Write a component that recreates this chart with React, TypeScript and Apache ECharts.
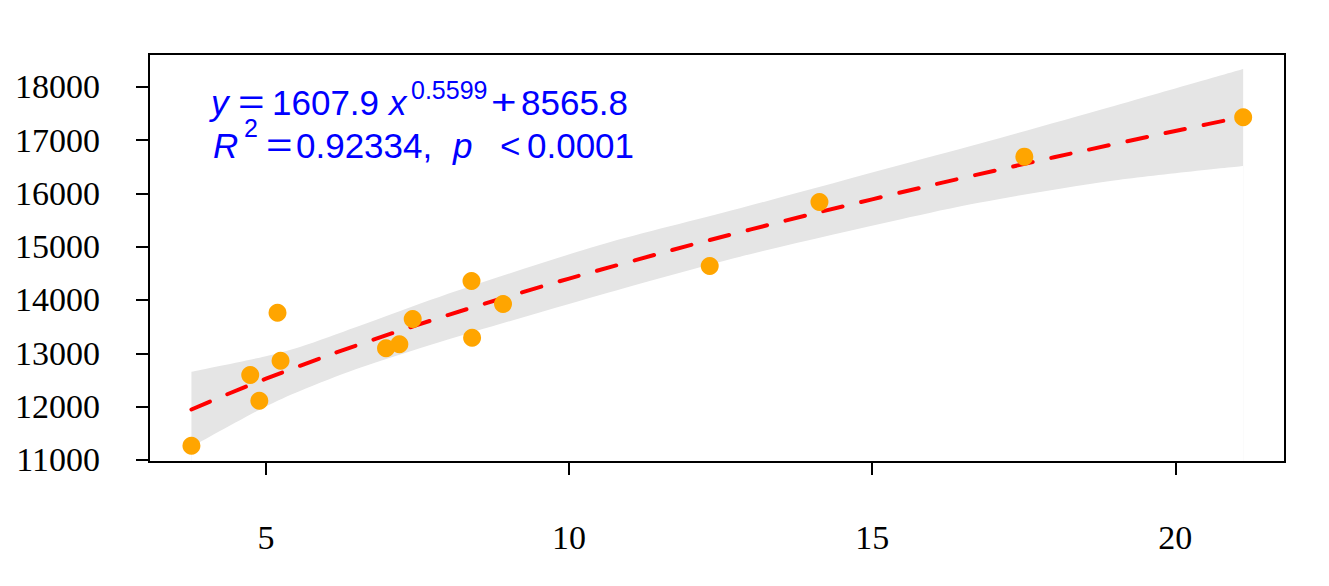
import React, { useEffect, useRef } from "react";
import * as echarts from "echarts";

// Observed points
const pointX = [3.77, 4.74, 4.89, 5.19, 5.24, 6.98, 7.2, 7.42, 8.39, 8.4, 8.91, 12.32, 14.13, 17.51, 21.12];
const pointY = [11268, 12594, 12112, 13762, 12862, 13094, 13169, 13644, 14356, 13293, 13925, 14638, 15838, 16688, 17426];

// Fitted curve
const fitX = [3.77, 4.3, 5, 6, 7, 8, 9, 10, 12, 14, 16, 18, 20, 21.12];
const fitY = [11946, 12204, 12525, 12951, 13346, 13717, 14068, 14402, 15029, 15612, 16159, 16677, 17170, 17437];

// Confidence band
const bandX = [3.77, 4.98, 5.56, 6.49, 7.87, 10.51, 12.82, 15.46, 16.78, 18.93, 21.12];
const bandUpper = [12656, 12941, 13119, 13494, 14062, 15031, 15720, 16532, 16935, 17619, 18332];
const bandLower = [11244, 11994, 12294, 12706, 13213, 14094, 14812, 15510, 15828, 16232, 16513];

// Axis ticks
const xTicks = [5, 10, 15, 20];
const yTicks = [11000, 12000, 13000, 14000, 15000, 16000, 17000, 18000];

export default function App() {
  const ref = useRef<HTMLDivElement>(null);

  useEffect(() => {
    const chart = echarts.init(ref.current as HTMLDivElement, null, { renderer: "svg" });
    const sans = "'Liberation Sans', Arial, Helvetica, sans-serif";
    const serif = "'Liberation Serif', 'Times New Roman', serif";
    const blue = "#0000ff";
    const txt = (text: string, x: number, y: number, size: number, italic = false, scaleX = 1) => ({
      type: "text",
      x,
      y,
      scaleX,
      silent: true,
      z: 100,
      style: {
        text,
        fill: blue,
        fontSize: size,
        fontFamily: sans,
        fontStyle: italic ? "italic" : "normal",
        align: "left",
        verticalAlign: "middle",
      },
    });

    const option: any = {
      animation: false,
      backgroundColor: "#ffffff",
      grid: {
        left: 149,
        top: 54,
        width: 1136,
        height: 408,
        show: true,
        z: 10,
        borderColor: "#000",
        borderWidth: 2,
        backgroundColor: "transparent",
      },
      xAxis: {
        type: "value",
        z: 10,
        min: 3.07,
        max: 21.81,
        splitLine: { show: false },
        axisLine: { show: true, onZero: false, lineStyle: { color: "#000", width: 2 } },
        axisTick: { show: true, length: 13, lineStyle: { color: "#000", width: 2 }, customValues: xTicks },
        axisLabel: {
          show: true,
          customValues: xTicks,
          margin: 58,
          color: "#000",
          fontFamily: serif,
          fontSize: 34,
          formatter: (v: number) => String(v),
        },
      },
      yAxis: {
        type: "value",
        z: 10,
        min: 10962,
        max: 18613,
        splitLine: { show: false },
        axisLine: { show: true, onZero: false, lineStyle: { color: "#000", width: 2 } },
        axisTick: { show: true, length: 13, lineStyle: { color: "#000", width: 2 }, customValues: yTicks },
        axisLabel: {
          show: true,
          customValues: yTicks,
          margin: 49,
          color: "#000",
          fontFamily: serif,
          fontSize: 34,
          formatter: (v: number) => String(v),
        },
      },
      series: [
        {
          type: "line",
          name: "bandUpper",
          z: 1,
          silent: true,
          data: bandX.map((x, i) => [x, bandUpper[i]]),
          symbol: "none",
          smooth: 0.3,
          lineStyle: { opacity: 0, width: 0 },
          areaStyle: { color: "#e5e5e5", opacity: 1, origin: "start" },
        },
        {
          type: "line",
          name: "bandLower",
          z: 1.5,
          silent: true,
          data: bandX.map((x, i) => [x, bandLower[i]]),
          symbol: "none",
          smooth: 0.3,
          lineStyle: { opacity: 0, width: 0 },
          areaStyle: { color: "#ffffff", opacity: 1, origin: "start" },
        },
        {
          type: "line",
          z: 2,
          data: fitX.map((x, i) => [x, fitY[i]]),
          showSymbol: false,
          symbol: "none",
          smooth: 0.2,
          lineStyle: { color: "#ff0000", width: 4, type: [20, 19], cap: "round" },
        },
        {
          type: "scatter",
          z: 3,
          data: pointX.map((x, i) => [x, pointY[i]]),
          symbol: "circle",
          symbolSize: 18,
          itemStyle: { color: "#ffa500", opacity: 1 },
        },
      ],
      graphic: [
        txt("y", 211, 102, 35, true),
        txt("=", 238, 102, 35, false, 1.3),
        txt("1607.9", 272, 102, 35),
        txt("x", 389, 102, 35, true),
        txt("0.5599", 411, 90, 25),
        txt("+", 491, 102, 35, false, 1.25),
        txt("8565.8", 521, 102, 35),
        txt("R", 213, 145, 35, true),
        txt("2", 244, 128, 25),
        txt("=", 266, 145, 35, false, 1.3),
        txt("0.92334,", 296, 145, 35),
        txt("p", 453, 145, 35, true),
        txt("<", 500, 145, 35),
        txt("0.0001", 527, 145, 35),
      ],
    };
    chart.setOption(option);
    return () => chart.dispose();
  }, []);

  return <div ref={ref} style={{ position: "absolute", left: 0, top: 0, width: 1329, height: 586 }} />;
}
